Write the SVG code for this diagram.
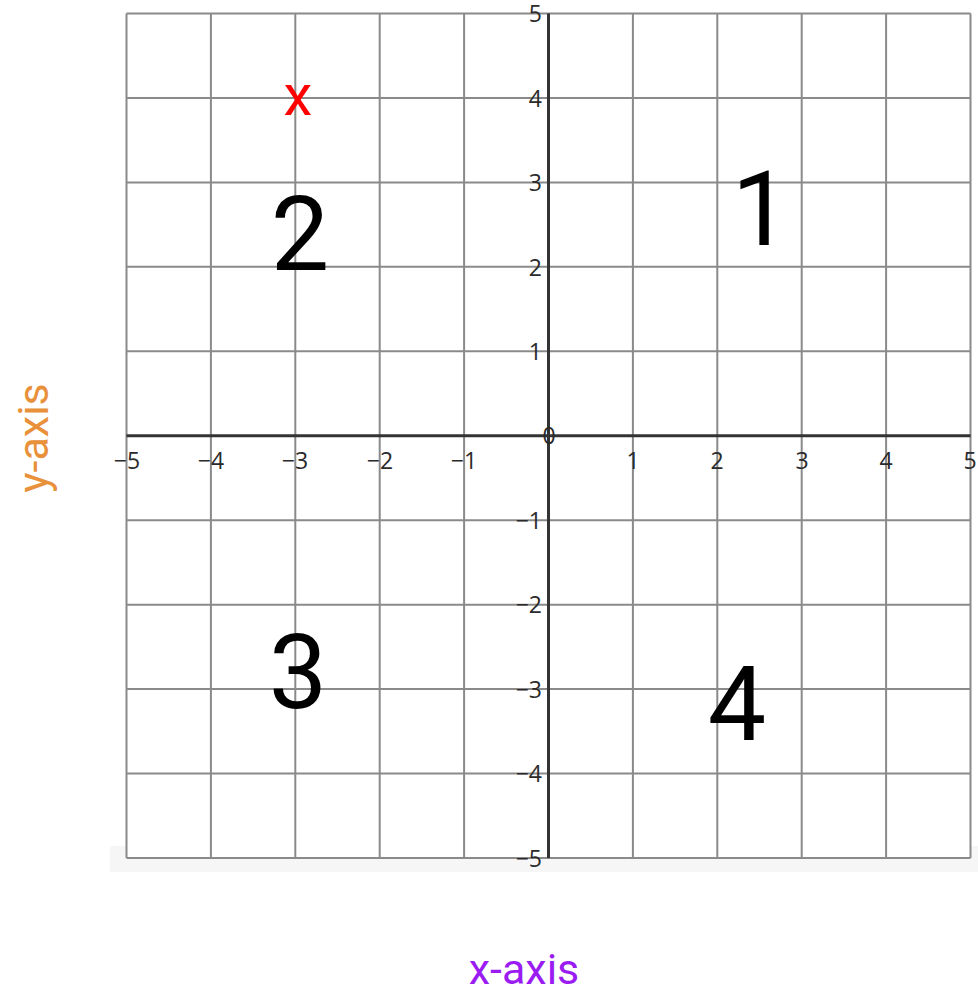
<svg xmlns="http://www.w3.org/2000/svg" width="978" height="993" viewBox="0 0 978 993">
<style>
.grid line{stroke:#8a8a8a;stroke-width:2}
.axis{stroke:#333;stroke-width:3}
.tick{font-family:"Open Sans","DejaVu Sans",sans-serif;font-size:23px;fill:#2a2a2a}
.tx{text-anchor:middle}
.ty{text-anchor:end}
.quad{font-family:Roboto,"Liberation Sans",sans-serif;font-size:104px;fill:#000;text-anchor:middle}
.lbl{font-family:Roboto,"Liberation Sans",sans-serif;font-size:43px;text-anchor:middle}
</style>
<rect width="978" height="993" fill="#fff"/>
<rect x="110" y="846" width="868" height="26" fill="#f6f6f6"/>
<rect x="126.5" y="13.5" width="844" height="844.5" fill="#fff"/>
<g id="grid" class="grid">
<line x1="126.5" y1="13.5" x2="126.5" y2="858"/>
<line x1="210.9" y1="13.5" x2="210.9" y2="858"/>
<line x1="295.3" y1="13.5" x2="295.3" y2="858"/>
<line x1="379.7" y1="13.5" x2="379.7" y2="858"/>
<line x1="464.1" y1="13.5" x2="464.1" y2="858"/>
<line x1="632.9" y1="13.5" x2="632.9" y2="858"/>
<line x1="717.3" y1="13.5" x2="717.3" y2="858"/>
<line x1="801.7" y1="13.5" x2="801.7" y2="858"/>
<line x1="886.1" y1="13.5" x2="886.1" y2="858"/>
<line x1="970.5" y1="13.5" x2="970.5" y2="858"/>
<line x1="126.5" y1="13.5" x2="970.5" y2="13.5"/>
<line x1="126.5" y1="97.9" x2="970.5" y2="97.9"/>
<line x1="126.5" y1="182.4" x2="970.5" y2="182.4"/>
<line x1="126.5" y1="266.8" x2="970.5" y2="266.8"/>
<line x1="126.5" y1="351.3" x2="970.5" y2="351.3"/>
<line x1="126.5" y1="520.2" x2="970.5" y2="520.2"/>
<line x1="126.5" y1="604.7" x2="970.5" y2="604.7"/>
<line x1="126.5" y1="689.1" x2="970.5" y2="689.1"/>
<line x1="126.5" y1="773.6" x2="970.5" y2="773.6"/>
<line x1="126.5" y1="858" x2="970.5" y2="858"/>
</g>
<g id="axes">
<line class="axis" x1="126.5" y1="435.8" x2="970.5" y2="435.8"/>
<line class="axis" x1="548.5" y1="13.5" x2="548.5" y2="858"/>
</g>
<g id="xticks" class="tick tx">
<text x="127" y="469">−5</text>
<text x="211" y="469">−4</text>
<text x="295" y="469">−3</text>
<text x="380" y="469">−2</text>
<text x="464" y="469">−1</text>
<text x="633" y="469">1</text>
<text x="717" y="469">2</text>
<text x="802" y="469">3</text>
<text x="886" y="469">4</text>
<text x="970" y="469">5</text>
</g>
<g id="yticks" class="tick ty">
<text x="542" y="22">5</text>
<text x="542" y="106.5">4</text>
<text x="542" y="191">3</text>
<text x="542" y="275.5">2</text>
<text x="542" y="360">1</text>
<text x="542" y="528.8">−1</text>
<text x="542" y="613.3">−2</text>
<text x="542" y="697.7">−3</text>
<text x="542" y="782.2">−4</text>
<text x="542" y="866.6">−5</text>
</g>
<text class="tick tx" x="549" y="444">0</text>
<g id="quadrants" class="quad">
<text x="761" y="245">1</text>
<text x="300" y="270">2</text>
<text x="298" y="708">3</text>
<text x="737" y="740">4</text>
</g>
<text id="point" x="298" y="115" font-family="Roboto,'Liberation Sans',sans-serif" font-size="58" fill="#ff0000" text-anchor="middle">x</text>
<text id="xlabel" class="lbl" x="524" y="984" fill="#9b1cf2">x-axis</text>
<text id="ylabel" class="lbl" transform="translate(48 438) rotate(-90)" x="0" y="0" fill="#e8903a">y-axis</text>
</svg>
